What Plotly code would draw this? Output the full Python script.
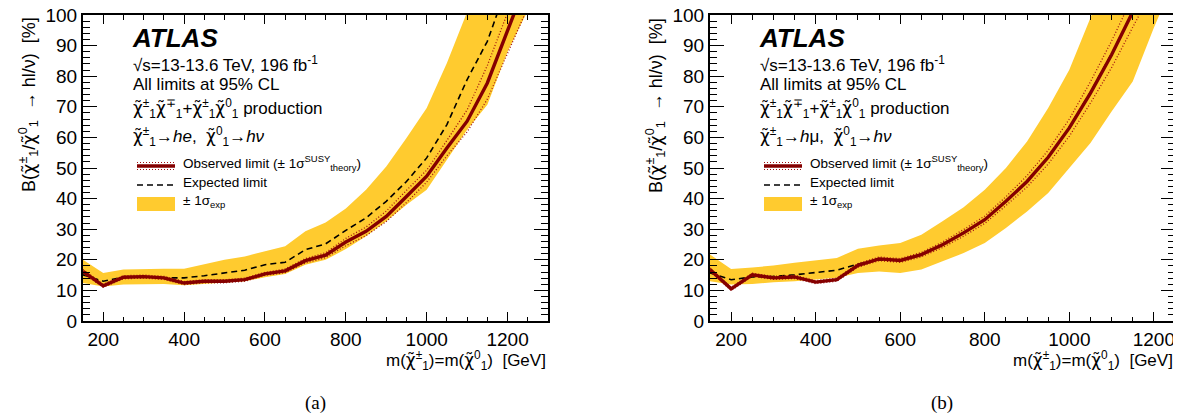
import plotly.graph_objects as go

# ---------------- data ----------------
mass_a = [150, 200, 250, 300, 350, 400, 450, 500, 550, 600, 650, 700, 750, 800,
          850, 900, 950, 1000, 1050, 1100, 1150, 1200, 1250]
obs_a = [16.2, 11.5, 14.3, 14.5, 14.1, 12.4, 13.0, 13.0, 13.5, 15.4, 16.4, 19.7, 21.5, 25.8,
         29.3, 34.2, 40.7, 47.3, 56.5, 65.3, 77.8, 94.1, 112]
exp_a = [15.1, 13.0, 14.3, 14.4, 14.1, 14.1, 14.8, 15.7, 16.6, 18.4, 19.2, 23.3, 25.2, 29.6,
         33.7, 39.1, 45.6, 53.3, 64.2, 78.9, 91.4, 110, 128]
band_hi_a = [20.0, 15.7, 16.8, 17.0, 17.1, 17.1, 18.6, 20.0, 21.1, 22.8, 24.4, 29.3, 32.2, 36.8,
             42.9, 50.5, 59.8, 69.6, 84.3, 101, 118, 135, 150]
band_lo_a = [12.4, 11.3, 11.9, 12.1, 12.1, 11.7, 12.1, 12.4, 13.0, 14.3, 15.4, 18.4, 20.0, 23.5,
             27.7, 32.6, 38.0, 42.9, 52.7, 62.5, 70.7, 88.0, 101.5]
th_up_a = [16.8, 12.0, 14.8, 15.0, 14.6, 12.9, 13.5, 13.5, 14.0, 15.9, 17.0, 20.4, 22.3, 27.0,
           30.7, 35.9, 42.7, 49.3, 59.0, 69.0, 83.5, 101.5, 118]
th_dn_a = [15.6, 11.0, 13.8, 14.0, 13.6, 11.9, 12.5, 12.5, 13.0, 14.9, 15.8, 19.0, 20.7, 24.6,
           27.9, 32.5, 38.7, 45.4, 54.0, 61.8, 72.5, 87.8, 102.5]

mass_b = [150, 200, 250, 300, 350, 400, 450, 500, 550, 600, 650, 700, 750, 800,
          850, 900, 950, 1000, 1050, 1100, 1150, 1200, 1250]
obs_b = [16.8, 10.5, 15.1, 14.1, 14.4, 12.7, 13.5, 18.2, 20.3, 19.8, 21.7, 24.9, 28.8, 33.1,
         39.1, 45.6, 53.5, 63.1, 74.5, 87.0, 101, 117, 133]
exp_b = [15.7, 13.5, 14.4, 14.6, 15.1, 15.9, 16.6, 18.6, 20.0, 19.8, 21.9, 25.0, 28.9, 33.0,
         39.3, 45.8, 53.6, 63.3, 74.8, 87.3, 101, 117, 133]
band_hi_b = [21.7, 17.0, 17.5, 18.1, 19.0, 19.7, 20.6, 23.6, 24.7, 25.5, 28.2, 32.6, 37.2, 42.9,
             50.0, 58.7, 69.6, 82.1, 99.5, 118, 135, 150, 165]
band_lo_b = [13.0, 11.9, 12.1, 12.7, 13.0, 13.5, 14.1, 15.7, 16.2, 15.7, 16.8, 19.5, 22.2, 25.5,
             30.4, 35.8, 41.8, 50.0, 58.2, 68.5, 78.3, 95.8, 112]
th_up_b = [17.3, 11.0, 15.6, 14.6, 14.9, 13.2, 14.0, 18.8, 20.9, 20.4, 22.4, 25.8, 29.9, 34.3,
           40.6, 47.5, 55.8, 66.0, 78.2, 91.5, 106, 122, 138]
th_dn_b = [16.3, 10.0, 14.6, 13.6, 13.9, 12.2, 13.0, 17.6, 19.7, 19.2, 21.0, 24.0, 27.7, 31.9,
           37.7, 43.8, 51.3, 60.4, 71.2, 82.8, 96.0, 109, 125]

x_tickvals = [200, 400, 600, 800, 1000, 1200]
y_tickvals = [0, 10, 20, 30, 40, 50, 60, 70, 80, 90, 100]

CHI = '<span style="font-family:DejaVu Sans">χ̃</span>'
decay_labels = [CHI + "<sup>±</sup><sub>1</sub>→<i>he</i>,  " + CHI + "<sup>0</sup><sub>1</sub>→<i>hν</i>",
                CHI + "<sup>±</sup><sub>1</sub>→<i>h</i>μ,  " + CHI + "<sup>0</sup><sub>1</sub>→<i>hν</i>"]
captions = ["(a)", "(b)"]

# ---------------- style ----------------
W, H = 1181, 414
YELLOW = "#FFCB2F"
DARKRED = "#850000"
DOTRED = "#A01010"
FONT = "Liberation Sans, Arial, sans-serif"


def px(x):
    return x / W


def py(y):
    return 1 - y / H


panels = [
    dict(m=mass_a, obs=obs_a, exp=exp_a, hi=band_hi_a, lo=band_lo_a, up=th_up_a, dn=th_dn_a,
         x0=75, x1=540, xr=[150, 1300]),
    dict(m=mass_b, obs=obs_b, exp=exp_b, hi=band_hi_b, lo=band_lo_b, up=th_up_b, dn=th_dn_b,
         x0=702, x1=1167, xr=[150, 1250]),
]
PT, PB = 7, 313

fig = go.Figure()
annotations = []
shapes = []

for i, p in enumerate(panels):
    sfx = "" if i == 0 else str(i + 1)
    xa, ya = "x" + sfx, "y" + sfx
    # band
    fig.add_trace(go.Scatter(x=p["m"], y=p["lo"], mode="lines", line=dict(width=0, color=YELLOW),
                             xaxis=xa, yaxis=ya, showlegend=False, hoverinfo="skip"))
    fig.add_trace(go.Scatter(x=p["m"], y=p["hi"], mode="lines", line=dict(width=0, color=YELLOW),
                             fill="tonexty", fillcolor=YELLOW, xaxis=xa, yaxis=ya,
                             showlegend=False, hoverinfo="skip"))
    # expected
    fig.add_trace(go.Scatter(x=p["m"], y=p["exp"], mode="lines",
                             line=dict(color="black", width=1.6, dash="6px,4px"),
                             xaxis=xa, yaxis=ya, showlegend=False))
    # theory variations
    for key in ("up", "dn"):
        fig.add_trace(go.Scatter(x=p["m"], y=p[key], mode="lines",
                                 line=dict(color=DOTRED, width=1.3, dash="1px,2px"),
                                 xaxis=xa, yaxis=ya, showlegend=False))
    # observed
    fig.add_trace(go.Scatter(x=p["m"], y=p["obs"], mode="lines",
                             line=dict(color=DARKRED, width=3.4),
                             xaxis=xa, yaxis=ya, showlegend=False))

    axis_common = dict(showline=True, linecolor="black", linewidth=2, mirror="allticks",
                       ticks="inside", tickcolor="black", tickwidth=1.3,
                       showgrid=False, zeroline=False, ticklabeloverflow="allow",
                       automargin=False,
                       tickfont=dict(family=FONT, size=19, color="black"))
    fig.update_layout(**{
        "xaxis" + sfx: dict(domain=[px(p["x0"]), px(p["x1"])], range=p["xr"], anchor=ya,
                            tickvals=x_tickvals, ticklen=9,
                            minor=dict(ticks="inside", dtick=50, tick0=0, ticklen=4.5,
                                       tickcolor="black", tickwidth=1.2, showgrid=False),
                            **axis_common),
        "yaxis" + sfx: dict(domain=[py(PB), py(PT)], range=[0, 100], anchor=xa,
                            tickvals=y_tickvals, ticklen=14,
                            minor=dict(ticks="inside", dtick=2, tick0=0, ticklen=7,
                                       tickcolor="black", tickwidth=1.2, showgrid=False),
                            **axis_common),
    })

    off = p["x0"] - 75
    tx = 123 + off

    def ann(text, x, y, size, xanchor="left", family=FONT, angle=0):
        annotations.append(dict(text=text, x=px(x), y=py(y), xref="paper", yref="paper",
                                xanchor=xanchor, yanchor="middle", showarrow=False,
                                textangle=angle,
                                font=dict(family=family, size=size, color="black")))

    ann("<b><i>ATLAS</i></b>", tx - 1, 30, 26)
    ann("√s=13-13.6 TeV, 196 fb<sup>-1</sup>", tx, 56, 17)
    ann("All limits at 95% CL", tx, 77, 17)
    ann(CHI + "<sup>±</sup><sub>1</sub>" + CHI + "<sup>∓</sup><sub>1</sub>+" + CHI +
        "<sup>±</sup><sub>1</sub>" + CHI + "<sup>0</sup><sub>1</sub> production", tx, 101, 17)
    ann(decay_labels[i], tx, 128, 17)
    # legend
    lx0, lx1 = 129 + off, 167 + off
    ann("Observed limit (± 1σ<sup>SUSY</sup><sub>theory</sub>)", 173 + off, 155, 13.5)
    ann("Expected limit", 173 + off, 174, 13.5)
    ann("± 1σ<sub>exp</sub>", 173 + off, 193, 13.5)
    shapes.append(dict(type="line", xref="paper", yref="paper", x0=px(lx0), x1=px(lx1),
                       y0=py(158), y1=py(158), line=dict(color=DARKRED, width=3.4)))
    for dy in (-3.5, 3.5):
        shapes.append(dict(type="line", xref="paper", yref="paper", x0=px(lx0), x1=px(lx1),
                           y0=py(158 + dy), y1=py(158 + dy),
                           line=dict(color=DOTRED, width=1.2, dash="1px,2px")))
    shapes.append(dict(type="line", xref="paper", yref="paper", x0=px(lx0), x1=px(lx1),
                       y0=py(177), y1=py(177),
                       line=dict(color="black", width=1.6, dash="6px,4px")))
    shapes.append(dict(type="rect", xref="paper", yref="paper", x0=px(lx0), x1=px(lx1),
                       y0=py(203), y1=py(189), fillcolor=YELLOW, line=dict(width=0)))
    # axis titles
    ann("m(" + CHI + "<sup>±</sup><sub>1</sub>)=m(" + CHI + "<sup>0</sup><sub>1</sub>)  [GeV]",
        p["x1"], 352, 17, xanchor="right")
    ann("B(" + CHI + "<sup>±</sup><sub>1</sub>/" + CHI + "<sup>0</sup><sub>1</sub>  → hl/ν)  [%]",
        20 + off, 97, 18, xanchor="center", angle=-90)
    ann(captions[i], (p["x0"] + p["x1"]) / 2, 395, 19, xanchor="center",
        family="Liberation Serif, Times New Roman, serif")

fig.update_layout(width=W, height=H, autosize=False,
                  margin=dict(l=0, r=0, t=0, b=0, autoexpand=False),
                  paper_bgcolor="white", plot_bgcolor="white",
                  annotations=annotations, shapes=shapes, showlegend=False)

fig.write_html("out.html")
